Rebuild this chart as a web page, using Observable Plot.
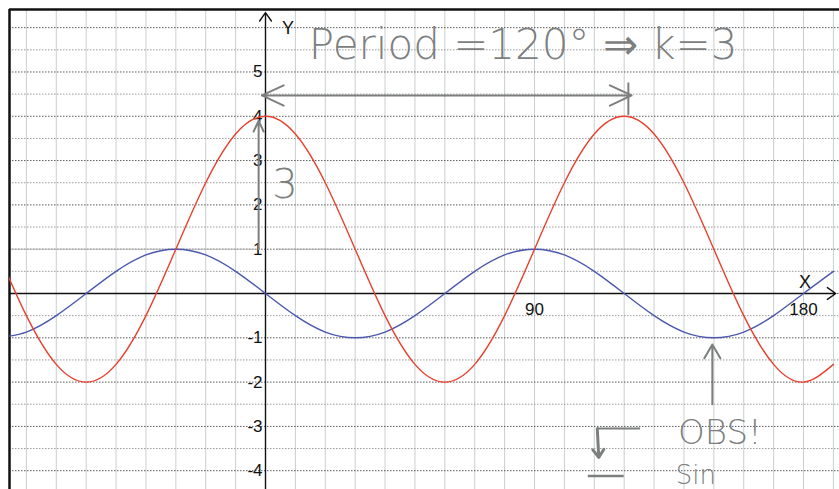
<!DOCTYPE html>
<html><head><meta charset="utf-8">
<script src="https://cdn.jsdelivr.net/npm/d3@7"></script>
<script src="https://cdn.jsdelivr.net/npm/@observablehq/plot@0.6"></script>
<style>body{margin:0;background:#fff}svg{display:block}</style>
</head><body><div id="chart"></div>
<script>
// Degrees sampled along the x axis
const xDeg = [-90,-80,-70,-60,-50,-40,-30,-20,-10,0,10,20,30,40,50,60,70,80,90,100,110,120,130,140,150,160,170,180,190];
// Blue curve (-sin 3x)
const blueValues = [-1,-0.87,-0.5,0,0.5,0.87,1,0.87,0.5,0,-0.5,-0.87,-1,-0.87,-0.5,0,0.5,0.87,1,0.87,0.5,0,-0.5,-0.87,-1,-0.87,-0.5,0,0.5];
// Red curve (1 + 3cos 3x)
const redValues = [1,-0.5,-1.6,-2,-1.6,-0.5,1,2.5,3.6,4,3.6,2.5,1,-0.5,-1.6,-2,-1.6,-0.5,1,2.5,3.6,4,3.6,2.5,1,-0.5,-1.6,-2,-1.6];
const yTickLabels = [5,4,3,2,1,-1,-2,-3,-4];
const xTickLabels = [90,180];

const blue = xDeg.map((x,i)=>({x, y: blueValues[i]}));
const red = xDeg.map((x,i)=>({x, y: redValues[i]}));

const X0 = -85.65, X1 = 192.04, Y0 = -4.424, Y1 = 6.41;
const vGrid = d3.range(-80, 200, 10);
const hInt = d3.range(-4, 7, 1);
const hHalf = d3.range(-3.5, 6.5, 1);
const gray = "#7d7f7f";
const hand = "'DejaVu Sans', sans-serif";

const chart = Plot.plot({
  width: 839, height: 489,
  marginLeft: 9, marginTop: 9, marginRight: 0, marginBottom: 0,
  x: {domain: [X0, X1], axis: null},
  y: {domain: [Y0, Y1], axis: null},
  style: {background: "#fff", fontFamily: "Arial, 'Liberation Sans', sans-serif"},
  marks: [
    Plot.ruleX(vGrid, {stroke: "#c8cfcf", strokeWidth: 1}),
    Plot.ruleY(hHalf, {stroke: "#9a9a9a", strokeWidth: 1, strokeDasharray: "1.5,1.5"}),
    Plot.ruleY(hInt, {stroke: "#5a5a5a", strokeWidth: 1, strokeDasharray: "1.5,1.5"}),
    // hand-traced line along y = 1
    Plot.ruleY([1], {x1: X0, x2: -3, stroke: "#b8b8b8", strokeWidth: 1}),
    Plot.ruleY([1], {x1: 4, x2: 26, stroke: "#b0b0b0", strokeWidth: 1}),
    Plot.ruleY([1], {x1: 105, x2: 125, stroke: "#c0c0c0", strokeWidth: 1}),
    // frame borders
    Plot.ruleX([X0], {stroke: "#111", strokeWidth: 2.5}),
    Plot.ruleY([Y1], {stroke: "#111", strokeWidth: 2.5}),
    // axes with arrowheads
    Plot.arrow([{a: 0}], {x1: 0, x2: 0, y1: Y0, y2: 6.34, stroke: "#111", strokeWidth: 1.4, headLength: 11, headAngle: 70}),
    Plot.arrow([{a: 0}], {x1: X0, x2: 190.8, y1: 0, y2: 0, stroke: "#111", strokeWidth: 1.4, headLength: 11, headAngle: 70}),
    // tick labels
    Plot.text(yTickLabels, {x: 0, y: d => d, text: d => String(d), textAnchor: "end", dx: -3, fontSize: 17, fill: "#111"}),
    Plot.text(xTickLabels, {x: d => d, y: 0, text: d => String(d), dy: 16, fontSize: 17, fill: "#111"}),
    Plot.text(["X"], {x: 180.5, y: 0, text: d => d, dy: -11, fontSize: 18, fill: "#111"}),
    Plot.text(["Y"], {x: 7.5, y: 6, text: d => d, dy: 1, fontSize: 18, fill: "#111"}),
    // curves
    Plot.line(blue, {x: "x", y: "y", curve: "natural", stroke: "#4b58ad", strokeWidth: 1.4, clip: true}),
    Plot.line(red, {x: "x", y: "y", curve: "natural", stroke: "#e8402e", strokeWidth: 1.4, clip: true}),
    // hand annotations
    Plot.text(["Period =120° ⇒ k=3"], {x: 14.5, y: 5.6, text: d => d, textAnchor: "start", fontSize: 42, fontFamily: hand, fontWeight: 300, fill: gray}),
    Plot.arrow([{a: 0}], {x1: 60, x2: -1.2, y1: 4.47, y2: 4.47, stroke: gray, strokeWidth: 2, headLength: 18, headAngle: 50}),
    Plot.arrow([{a: 0}], {x1: 60, x2: 122.5, y1: 4.47, y2: 4.47, stroke: gray, strokeWidth: 2, headLength: 18, headAngle: 50}),
    Plot.ruleX([121.4], {y1: 4.02, y2: 4.75, stroke: gray, strokeWidth: 2}),
    Plot.arrow([{a: 0}], {x1: -2.3, x2: -2.3, y1: 1, y2: 3.9, stroke: gray, strokeWidth: 2, headLength: 9, headAngle: 50}),
    Plot.text(["3"], {x: 6.5, y: 2.45, text: d => d, fontSize: 40, fontFamily: hand, fontWeight: 300, fill: gray}),
    Plot.arrow([{a: 0}], {x1: 149.5, x2: 149.5, y1: -2.5, y2: -1.15, stroke: gray, strokeWidth: 2, headLength: 12, headAngle: 60}),
    Plot.text(["OBS!"], {x: 152, y: -3.15, text: d => d, fontSize: 34, fontFamily: hand, fontWeight: 300, fill: gray}),
    Plot.text(["Sin"], {x: 144, y: -4.12, text: d => d, fontSize: 26, fontFamily: hand, fontWeight: 300, fill: gray}),
    Plot.ruleY([-3.05], {x1: 111, x2: 125.5, stroke: gray, strokeWidth: 2}),
    Plot.arrow([{a: 0}], {x1: 111, x2: 111.5, y1: -3.05, y2: -3.7, stroke: gray, strokeWidth: 3, headLength: 9, headAngle: 70}),
    Plot.ruleY([-4.12], {x1: 108, x2: 120, stroke: gray, strokeWidth: 2.5})
  ]
});
document.getElementById("chart").append(chart);
</script>
</body></html>
